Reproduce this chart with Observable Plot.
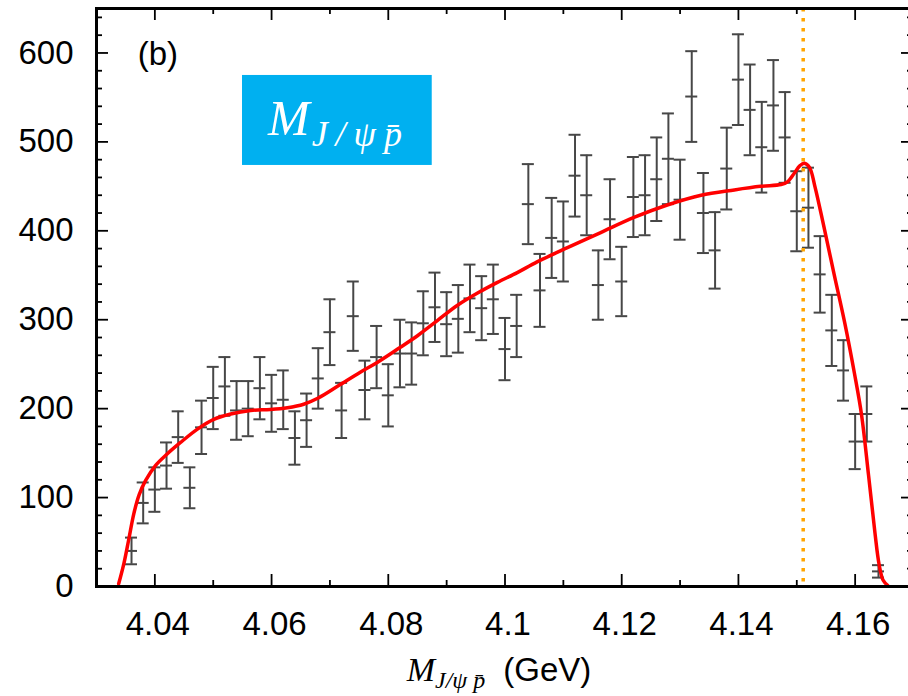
<!DOCTYPE html>
<html><head><meta charset="utf-8">
<script src="https://cdn.jsdelivr.net/npm/d3@7"></script>
<script src="https://cdn.jsdelivr.net/npm/@observablehq/plot@0.6"></script>
<style>
html,body{margin:0;padding:0;background:#fff;overflow:hidden;}
#chart{width:908px;height:696px;overflow:hidden;}
</style></head><body><div id="chart"></div>
<script>
// Data points (bin centres, GeV), counts and errors
const massBins = [4.036,4.038,4.040,4.042,4.044,4.046,4.048,4.050,4.052,4.054,4.056,4.058,4.060,4.062,4.064,4.066,4.068,4.070,4.072,4.074,4.076,4.078,4.080,4.082,4.084,4.086,4.088,4.090,4.092,4.094,4.096,4.098,4.100,4.102,4.104,4.106,4.108,4.110,4.112,4.114,4.116,4.118,4.120,4.122,4.124,4.126,4.128,4.130,4.132,4.134,4.136,4.138,4.140,4.142,4.144,4.146,4.148,4.150,4.152,4.154,4.156,4.158,4.160,4.162,4.164];
const counts = [40,94,109,136,168,111,179,212,225,198,200,223,206,210,167,187,234,286,198,304,221,258,215,262,262,296,314,295,301,324,313,323,267,293,430,333,392,388,462,440,339,413,343,438,440,458,481,435,551,420,378,470,570,536,494,541,505,422,426,351,288,243,163,194,17];
const errors = [15,23,25,26,29,23,30,35,33,33,31,35,32,33,30,30,34,37,31,39,33,35,35,38,35,36,39,36,38,38,36,39,35,35,45,41,45,45,46,45,39,45,39,45,45,47,51,45,51,45,43,46,51,51,51,51,51,45,45,43,40,34,31,31,7];

// Fit curve
const fitMass = [4.0338,4.0347,4.0355,4.0364,4.0373,4.0384,4.0401,4.0421,4.0444,4.0473,4.0501,4.0530,4.0564,4.0598,4.0627,4.0655,4.0680,4.0715,4.0752,4.0781,4.0816,4.0850,4.0884,4.0918,4.0953,4.0987,4.1021,4.1055,4.1107,4.1164,4.1221,4.1278,4.1336,4.1393,4.1438,4.1473,4.1484,4.1496,4.1505,4.1513,4.1522,4.1531,4.1546,4.1564,4.1582,4.1599,4.1611,4.1623,4.1634,4.1641,4.1648,4.1656];
const fitCounts = [3,26,52,82,103,119,136,149,162,177,188,194,198,199,201,205,212,226,241,252,267,282,299,316,330,342,353,365,381,398,415,429,440,446,450,452,455,465,473,476,471,450,406,351,297,239,193,125,60,25,7,1];

const thresholdMass = [4.1511];

const xTickValues = [4.04,4.06,4.08,4.10,4.12,4.14,4.16];
const xTickLabels = ["4.04","4.06","4.08","4.1","4.12","4.14","4.16"];
const xMinorTicks = [4.05,4.07,4.09,4.11,4.13,4.15,4.17];
const yTickValues = [0,100,200,300,400,500,600];
const yTickLabels = ["0","100","200","300","400","500","600"];
const yMinorTicks = [20,40,60,80,120,140,160,180,220,240,260,280,320,340,360,380,420,440,460,480,520,540,560,580,620,640];

// annotations (in data units)
const panelLabel = {x: 4.0406, y: 586, text: "(b)"};
const insetBox = [{x1: 4.05502, x2: 4.08753, y1: 473.5, y2: 574.7}];
const insetLabel = {x: 4.05947, y: 507};
const axisLabelStart = 4.08324;

const capHalf = 0.00103;
const points = massBins.map((m, i) => ({m, n: counts[i], lo: counts[i] - errors[i], hi: counts[i] + errors[i]}));
const fit = fitMass.map((m, i) => ({m, n: fitCounts[i]}));

const W = 914, H = 696, mL = 96, mR = 1, mT = 8, mB = 110;
const innerW = W - mL - mR, innerH = H - mT - mB;
const major = 12, minor = 6;
const barColor = "#474747";

const chart = Plot.plot({
  width: W, height: H,
  marginLeft: mL, marginRight: mR, marginTop: mT, marginBottom: mB,
  x: {domain: [4.03, 4.17]},
  y: {domain: [0, 650]},
  style: {fontFamily: "'Liberation Sans', Arial, sans-serif", fontSize: "33px", background: "white", maxWidth: "none", overflow: "visible", color: "black"},
  marks: [
    Plot.rect(insetBox, {x1: "x1", x2: "x2", y1: "y1", y2: "y2", fill: "#00B0F0"}),
    Plot.ruleX(points, {x: "m", y1: "lo", y2: "hi", stroke: barColor, strokeWidth: 2}),
    Plot.ruleY(points, {y: "hi", x1: d => d.m - capHalf, x2: d => d.m + capHalf, stroke: barColor, strokeWidth: 2}),
    Plot.ruleY(points, {y: "lo", x1: d => d.m - capHalf, x2: d => d.m + capHalf, stroke: barColor, strokeWidth: 2}),
    Plot.ruleY(points, {y: "n", x1: d => d.m - capHalf, x2: d => d.m + capHalf, stroke: barColor, strokeWidth: 2}),
    Plot.ruleX(thresholdMass, {stroke: "#FFA500", strokeWidth: 3.5, strokeDasharray: "3.4,6.6"}),
    Plot.line(fit, {x: "m", y: "n", stroke: "#FF0000", strokeWidth: 3.5, curve: "catmull-rom"}),
    // inward ticks
    Plot.ruleX(xTickValues, {insetTop: innerH - major, stroke: "black", strokeWidth: 1.8}),
    Plot.ruleX(xTickValues, {insetBottom: innerH - major, stroke: "black", strokeWidth: 1.8}),
    Plot.ruleX(xMinorTicks, {insetTop: innerH - minor, stroke: "black", strokeWidth: 1.8}),
    Plot.ruleX(xMinorTicks, {insetBottom: innerH - minor, stroke: "black", strokeWidth: 1.8}),
    Plot.ruleY(yTickValues, {insetRight: innerW - major, stroke: "black", strokeWidth: 1.8}),
    Plot.ruleY(yTickValues, {insetLeft: innerW - major, stroke: "black", strokeWidth: 1.8}),
    Plot.ruleY(yMinorTicks, {insetRight: innerW - minor, stroke: "black", strokeWidth: 1.8}),
    Plot.ruleY(yMinorTicks, {insetLeft: innerW - minor, stroke: "black", strokeWidth: 1.8}),
    Plot.axisX(xTickValues, {tickSize: 0, tickPadding: 25, dx: 3, label: null, fill: "black",
      tickFormat: d => xTickLabels[xTickValues.indexOf(d)]}),
    Plot.axisY(yTickValues, {tickSize: 0, tickPadding: 23, label: null, fill: "black",
      tickFormat: d => yTickLabels[yTickValues.indexOf(d)]}),
    Plot.frame({stroke: "black", strokeWidth: 3})
  ]
});

const xs = chart.scale("x"), ys = chart.scale("y");
const fx = d3.scaleLinear(xs.domain, xs.range), fy = d3.scaleLinear(ys.domain, ys.range);
const svg = d3.select(chart);

svg.append("text")
  .attr("x", fx(panelLabel.x)).attr("y", fy(panelLabel.y))
  .attr("text-anchor", "middle").attr("font-size", 33).attr("fill", "black")
  .text(panelLabel.text);

const t = svg.append("text")
  .attr("x", fx(insetLabel.x)).attr("y", fy(insetLabel.y))
  .attr("text-anchor", "start")
  .attr("fill", "white").attr("font-family", "'Liberation Serif', 'DejaVu Serif', serif")
  .attr("font-style", "italic");
t.append("tspan").attr("font-size", 50).text("M");
t.append("tspan").attr("font-size", 36).attr("dy", 11).attr("dx", 2).attr("letter-spacing", 8).text("J/\u03C8p\u0304");

const a = svg.append("text")
  .attr("x", fx(axisLabelStart)).attr("y", fy(0) + 95)
  .attr("text-anchor", "start")
  .attr("fill", "black");
a.append("tspan").attr("font-family", "'Liberation Serif', serif").attr("font-style", "italic").attr("font-size", 34).text("M");
a.append("tspan").attr("font-family", "'Liberation Serif', serif").attr("font-style", "italic").attr("font-size", 24).attr("dy", 7).text("J/\u03C8 p\u0304");
a.append("tspan").attr("font-size", 33).attr("dy", -7).attr("dx", 18).text("(GeV)");

document.getElementById("chart").appendChild(chart);
</script>
</body></html>
